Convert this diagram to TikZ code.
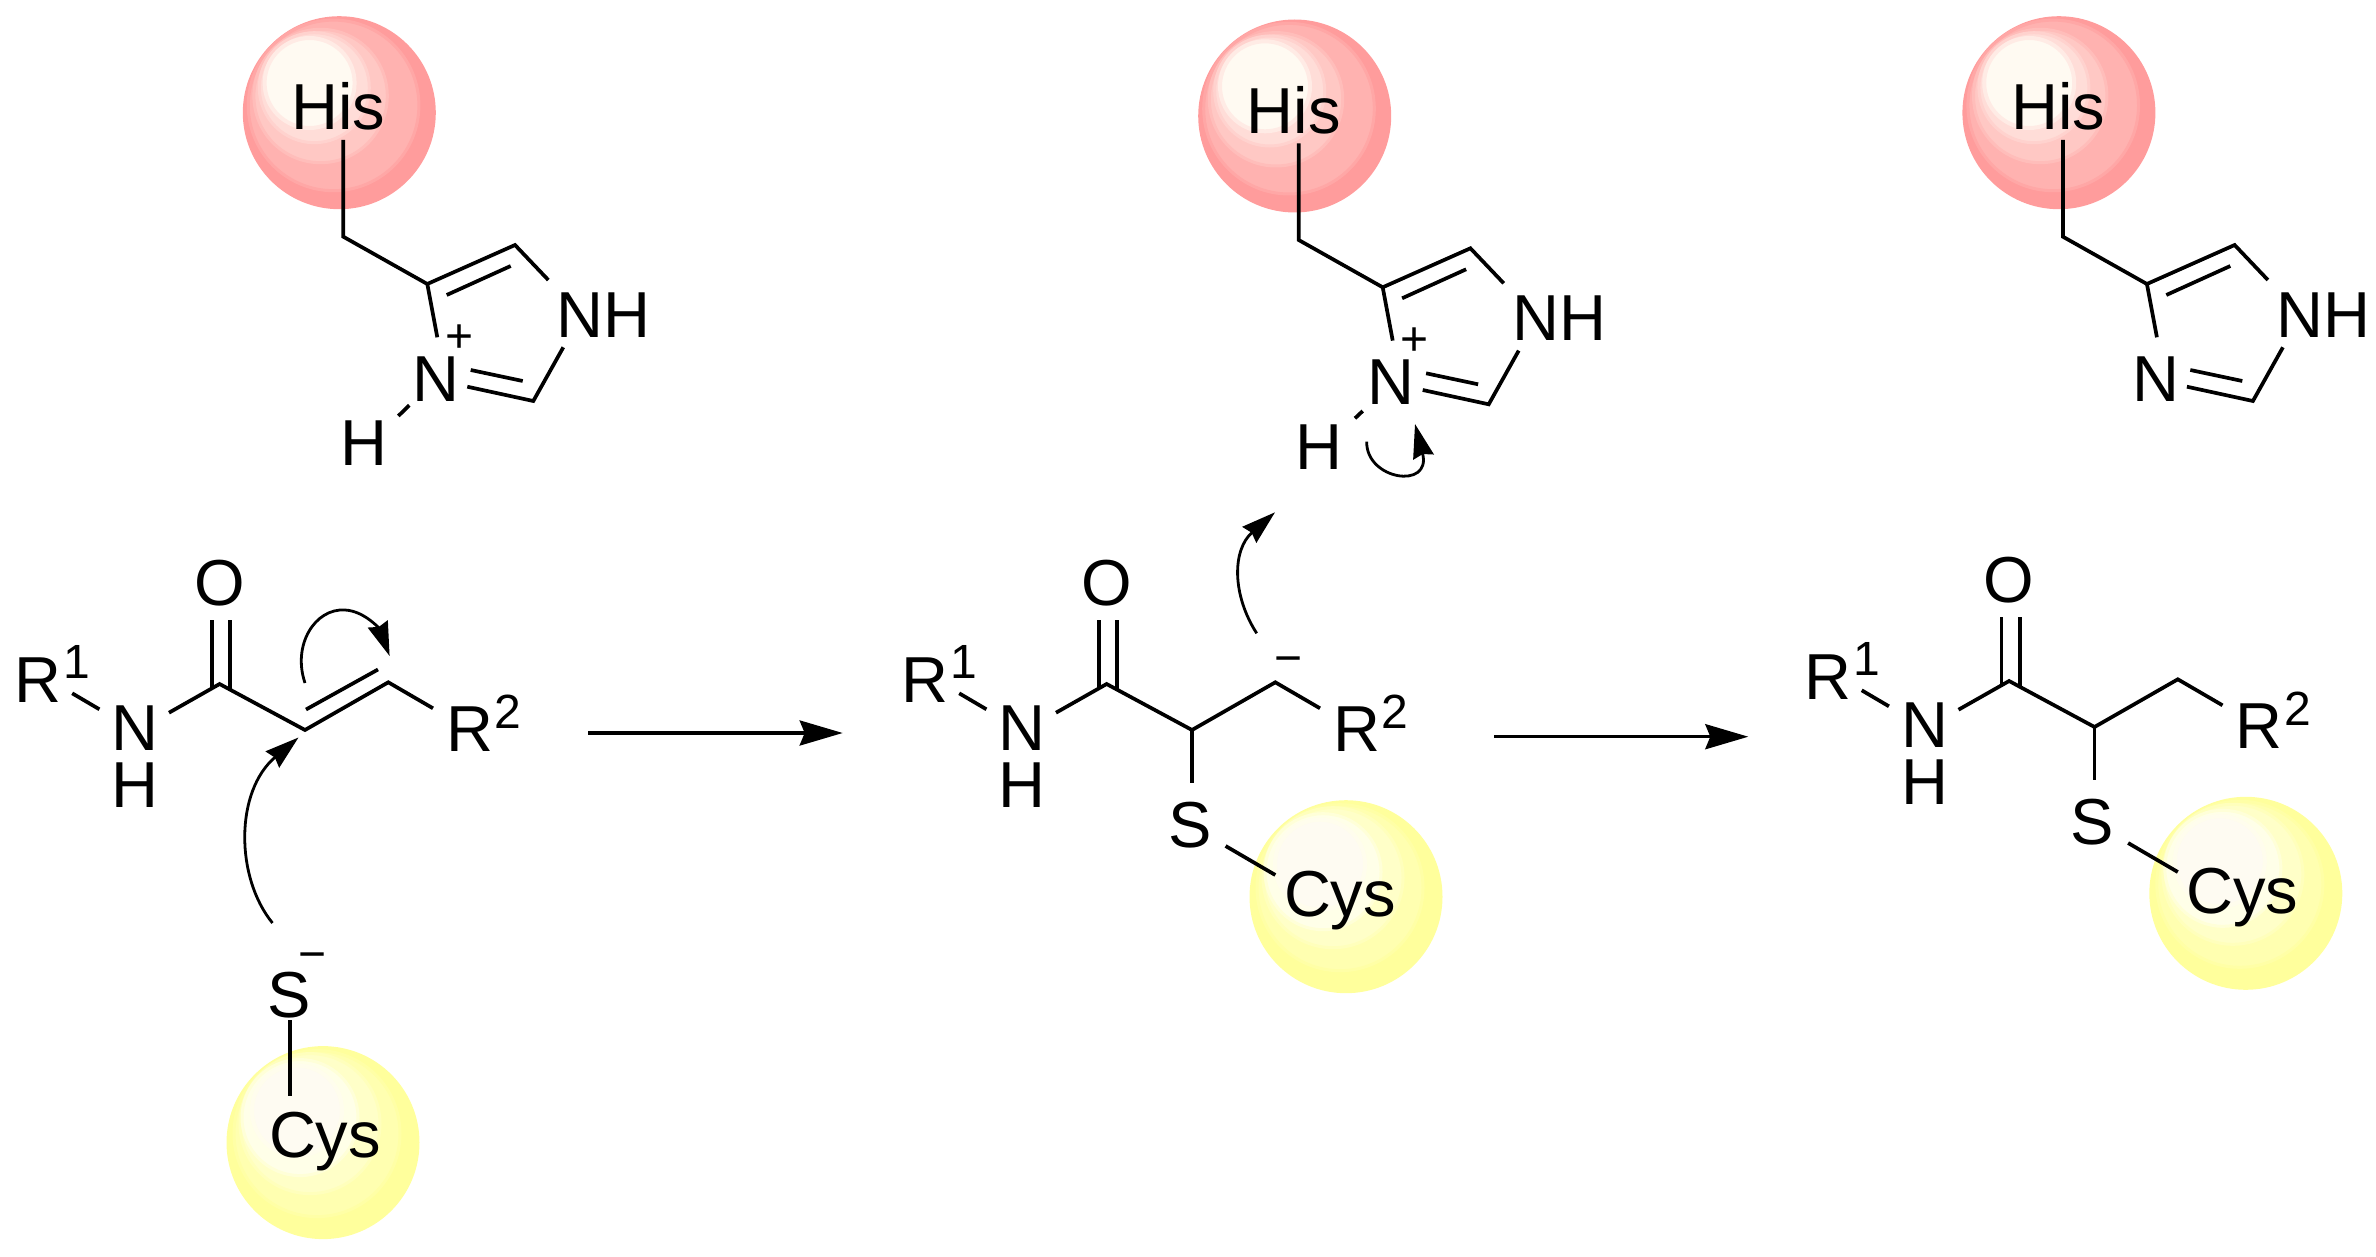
\documentclass[tikz,border=0pt]{standalone}
\usepackage{fontspec}
\setmainfont{Liberation Sans}
\usetikzlibrary{arrows.meta}
\definecolor{rA}{HTML}{FF9C9C}\definecolor{rB}{HTML}{FFB2B0}\definecolor{rC}{HTML}{FFC8C4}\definecolor{rD}{HTML}{FFDDD8}\definecolor{rE}{HTML}{FFFAF2}
\definecolor{yA}{HTML}{FFFF9C}\definecolor{yB}{HTML}{FFFFB0}\definecolor{yC}{HTML}{FFFFC8}\definecolor{yD}{HTML}{FFFFE8}\definecolor{yE}{HTML}{FEFBF2}
\tikzset{
  atom/.style={inner sep=0pt,anchor=base,font=\fontsize{65}{70}\selectfont},
  small/.style={inner sep=0pt,anchor=base,font=\fontsize{48}{52}\selectfont},
  bond/.style={line width=3.7pt,line join=miter,line cap=butt},
  curly/.style={line width=2.8pt,-{Stealth[length=#1]}},
  curly/.default={34pt,width=21pt,inset=3pt},
  react/.style={line width=3.4pt,-{Stealth[length=43pt,width=25pt,inset=5pt]}},
}
% ball with banded highlight; each band has a soft edge of the mixed colour
\newcommand{\RedBall}[3]{%
  \node[circle,fill=rA,inner sep=0pt,minimum size=193pt] (#1) at (#2,#3) {};
  \fill[rB,draw=rA!50!rB,line width=3pt] (#2-5.7,#3-7.3) circle[radius=85.3];
  \fill[rC,draw=rB!50!rC,line width=3pt] (#2-18.7,#3-16.7) circle[radius=66.7];
  \fill[rD,draw=rC!50!rD,line width=3pt] (#2-25,#3-25) circle[radius=55];
  \fill[rE,draw=rD!50!rE,line width=4pt] (#2-29.7,#3-29.7) circle[radius=45];
}
\newcommand{\YellowBall}[3]{%
  \node[circle,fill=yA,inner sep=0pt,minimum size=193pt] (#1) at (#2,#3) {};
  \fill[yB,draw=yA!50!yB,line width=3pt] (#2-6,#3-9) circle[radius=83];
  \fill[yC,draw=yB!50!yC,line width=3pt] (#2-13,#3-19) circle[radius=70];
  \fill[yD,draw=yC!50!yD,line width=3pt] (#2-23,#3-25) circle[radius=58];
  \fill[yE,draw=yD!50!yE,line width=4pt] (#2-26,#3-32) circle[radius=45];
}
% histidine side chain; coordinates given for the first copy
\newcommand{\HisGroup}[3]{%
\begin{scope}[shift={(#2,#3)},name prefix=#1-]
  \RedBall{ball}{339.3}{112.7}
  \node[atom] (his) at (338.5,130) {His};
  \node[atom] (nh) at (603.7,337.3) {NH};
  \node[atom] (n) at (436,401) {N};
  \coordinate (stem) at (343.3,140);
  \coordinate (ch2) at (343.3,236.7);
  \coordinate (c4) at (427.3,284);
  \coordinate (c5) at (515,245);
  \coordinate (c2) at (533.3,401);
  \coordinate (db1a) at (446.7,295);
  \coordinate (db1b) at (510.7,266);
  \coordinate (db2a) at (470.7,370);
  \coordinate (db2b) at (522.7,381);
  \coordinate (n3) at (437.3,337.3);
  \coordinate (n1a) at (548.3,280);
  \coordinate (n1b) at (563.3,347.3);
  \coordinate (n3b) at (467.3,386.7);
  \draw[bond] (stem) -- (ch2) -- (c4) -- (c5) -- (n1a);
  \draw[bond] (c4) -- (n3);
  \draw[bond] (db1a) -- (db1b);
  \draw[bond] (n3b) -- (c2) -- (n1b);
  \draw[bond] (db2a) -- (db2b);
\end{scope}}
% amide backbone; coordinates given for the middle copy
\newcommand{\Amide}[3]{%
\begin{scope}[shift={(#2,#3)},name prefix=#1-]
  \node[atom] (r) at (925,702.7) {R};
  \node[small] (ra) at (964,678) {1};
  \node[atom] (n) at (1022,750.7) {N};
  \node[atom] (h) at (1022,807.3) {H};
  \node[atom] (o) at (1106.6,605) {O};
  \node[atom] (rb) at (1356.5,751.7) {R};
  \node[small] (rc) at (1395,728) {2};
  \coordinate (ra1) at (959.2,693.3);
  \coordinate (ra2) at (986.4,709.3);
  \coordinate (nc) at (1056,712.7);
  \coordinate (c) at (1106.6,684);
  \coordinate (ca) at (1192,730);
  \coordinate (cb) at (1275.3,682.3);
  \coordinate (cr) at (1320,708.3);
  \coordinate (o1a) at (1098.9,688.5);
  \coordinate (o1b) at (1098.9,620);
  \coordinate (o2a) at (1117.3,690);
  \coordinate (o2b) at (1117.3,620);
  \draw[bond] (ra1) -- (ra2);
  \draw[bond] (nc) -- (c) -- (ca) -- (cb) -- (cr);
  \draw[bond] (o1a) -- (o1b);
  \draw[bond] (o2a) -- (o2b);
\end{scope}}
% thioether arm on the amide's alpha carbon
\newcommand{\Thio}[5]{%
\begin{scope}[name prefix=#1-]
  \YellowBall{ball}{#4}{#5}
\end{scope}
\begin{scope}[shift={(#2,#3)},name prefix=#1-]
  \node[atom] (s) at (1190,847) {S};
  \node[atom] (cys) at (1340,916) {Cys};
  \coordinate (sa) at (1192,783.3);
  \coordinate (sb) at (1225.6,846);
  \coordinate (sc) at (1275.3,875);
  \draw[bond] (ca) -- (sa);
  \draw[bond] (sb) -- (sc);
\end{scope}}
\begin{document}
\begin{tikzpicture}[x=1pt,y=-1pt]
\useasboundingbox (0,0) rectangle (2376,1257);
% top row
\HisGroup{ha}{0}{0}
\HisGroup{hb}{955.4}{3.3}
\HisGroup{hc}{1719.6}{0}
% protonated N-H on first and second
\node[small] (ha-plus) at (459.3,352) {+};
\node[atom] (ha-h) at (364,465) {H};
\coordinate (ha-nh1) at (409.3,405.3);
\coordinate (ha-nh2) at (398.3,416);
\draw[bond] (ha-nh1) -- (ha-nh2);
\node[small] (hb-plus) at (1414.7,355.5) {+};
\node[atom] (hb-h) at (1319,469.3) {H};
\coordinate (hb-nh1) at (1362.7,411);
\coordinate (hb-nh2) at (1355,418.3);
\draw[bond] (hb-nh1) -- (hb-nh2);
% bottom structures
\Amide{am}{-887}{0}
\coordinate (am-pi1) at (306,709.5);
\coordinate (am-pi2) at (378,669.5);
\draw[bond] (am-pi1) -- (am-pi2);
\node[atom] (sm) at (289,1017) {S};
\node[small] (sm-minus) at (312.5,970) {−};
\YellowBall{cyb}{323}{1142.6}
\node[atom] (cya) at (325,1157.5) {Cys};
\coordinate (sm-b) at (289.7,1020);
\coordinate (sm-c) at (289.7,1095.5);
\draw[bond] (sm-b) -- (sm-c);
\Amide{bm}{0}{0}
\Thio{bm}{0}{0}{1346}{896.7}
\node[small] (bm-minus) at (1288,674) {−};
\Amide{cm}{902.5}{-3}
\Thio{cm}{902.5}{-3}{2245.8}{893.3}
% curved electron arrows
\coordinate (a1s) at (305,683);
\coordinate (a1m) at (345,610);
\coordinate (a1e) at (389.6,656);
\draw[curly] (a1s) .. controls (292,645) and (315,608) .. (a1m) .. controls (365,611) and (380,630) .. (a1e);
\coordinate (a2s) at (272.5,923);
\coordinate (a2e) at (298.5,737.5);
\draw[curly] (a2s) .. controls (235,877) and (235,791) .. (a2e);
\coordinate (a3s) at (1256.7,633.3);
\coordinate (a3e) at (1275,512.3);
\draw[curly] (a3s) .. controls (1232,595) and (1232,550) .. (a3e);
\coordinate (a4s) at (1366.7,441.7);
\coordinate (a4e) at (1415,424);
\draw[curly] (a4s) .. controls (1366,480) and (1432,490) .. (a4e);
% reaction arrows
\coordinate (r1a) at (588.3,733);
\coordinate (r1b) at (842.7,733);
\coordinate (r2a) at (1494,736.7);
\coordinate (r2b) at (1748.3,736.7);
\draw[react] (r1a) -- (r1b);
\draw[react] (r2a) -- (r2b);
\end{tikzpicture}
\end{document}
